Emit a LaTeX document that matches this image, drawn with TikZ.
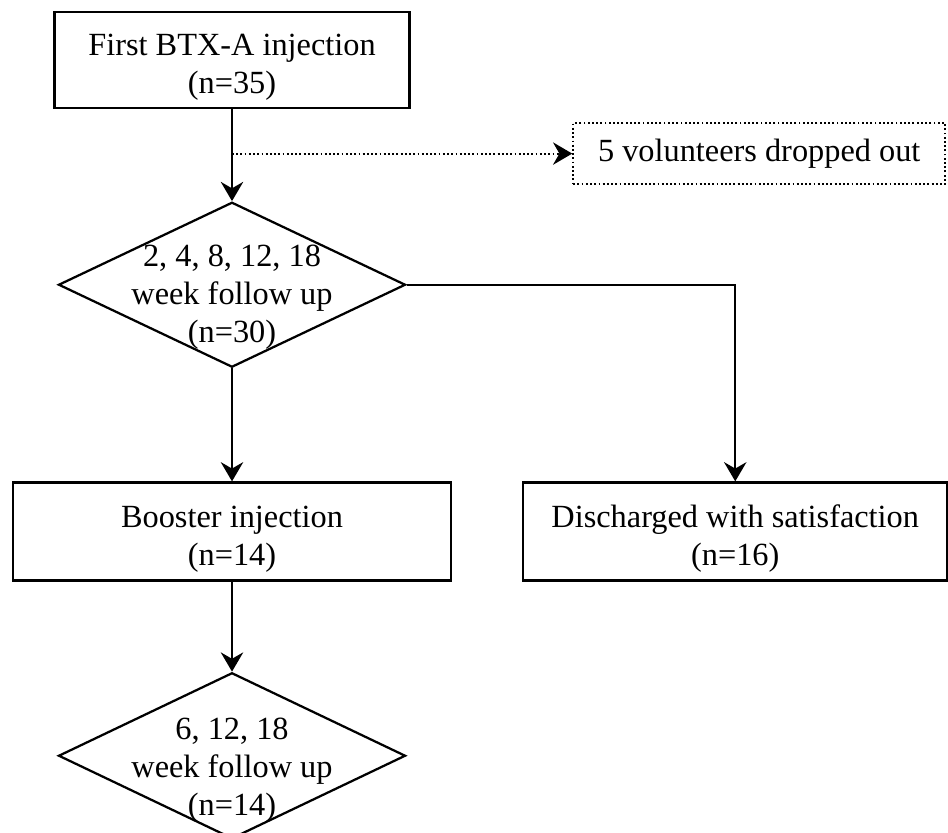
\documentclass[tikz,border=0pt]{standalone}
\usepackage{fontspec}
\setmainfont{Liberation Serif}
\usetikzlibrary{arrows.meta,positioning,shapes.geometric}

\begin{document}
\begin{tikzpicture}[
    every node/.style={font=\fontsize{23}{27}\selectfont},
    box/.style={draw,line width=1.6pt,align=center,inner sep=0pt},
    twoline/.style={box,text height=1.85cm},
    decision/.style={draw,diamond,line width=1.6pt,minimum width=8.675cm,minimum height=4.125cm,inner sep=0pt},
    flow/.style={-{Stealth[length=4.8mm,width=5.6mm,inset=1.6mm]},line width=1.6pt},
    dots/.style={line width=1.4pt,dash pattern=on 1.3pt off 1.7pt}
  ]
  \useasboundingbox (0,0) rectangle (23.7,20.825);
  % steps
  \node[twoline,minimum width=8.875cm,minimum height=2.4cm] (first) at (5.8,19.325) {First BTX-A injection\\(n=35)};
  \node[decision,below=2.3cm of first] (fu1) {};
  \node[align=center,yshift=-0.3cm] (fu1txt) at (fu1) {2, 4, 8, 12, 18\\week follow up\\(n=30)};
  \node[twoline,below=2.825cm of fu1,minimum width=10.95cm,minimum height=2.45cm] (booster) {Booster injection\\(n=14)};
  \node[twoline,right=1.75cm of booster,minimum width=10.6cm,minimum height=2.45cm] (dis) {Discharged with satisfaction\\(n=16)};
  \node[decision,below=2.25cm of booster,minimum height=4.15cm] (fu2) {};
  \node[align=center,yshift=-0.35cm] (fu2txt) at (fu2) {6, 12, 18\\week follow up\\(n=14)};
  % drop-outs
  \node[box,dots,below right=0.325cm and 4.04cm of first,minimum width=9.3cm,minimum height=1.525cm] (drop) {5 volunteers dropped out};
  % flows
  \draw[flow] (first) -- (fu1);
  \draw[flow,dots] (first.south |- drop.west) -- (drop.west);
  \draw[flow] (fu1) -- (booster);
  \draw[flow] (fu1.east) -| (dis.north);
  \draw[flow] (booster) -- (fu2);
\end{tikzpicture}
\end{document}
